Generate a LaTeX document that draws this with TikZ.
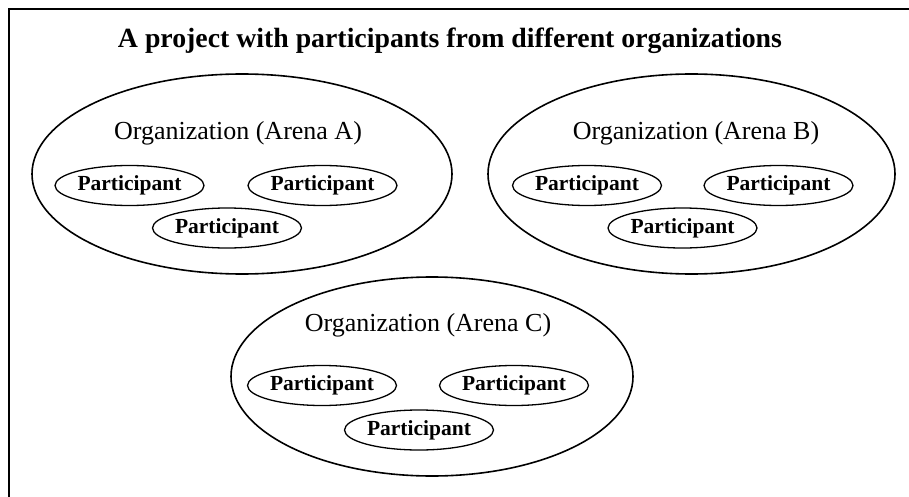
\documentclass[tikz,border=0pt]{standalone}
\usepackage{fontspec}
\setmainfont{Liberation Serif}
\usetikzlibrary{shapes.geometric}
\begin{document}
\begin{tikzpicture}[x=1pt,y=-1pt,
  org/.style={ellipse,draw,line width=1.6pt,inner sep=0pt},
  orgname/.style={font=\fontsize{26}{30}\selectfont,inner sep=0pt},
  member/.style={ellipse,draw,line width=1.3pt,inner sep=0pt,
    minimum width=149pt,minimum height=40pt,
    font=\bfseries\fontsize{21.5}{24}\selectfont},
  frameline/.style={line width=2pt}]
\useasboundingbox (0,0) rectangle (909,497);
% frame edges
\draw[frameline] (909,9) -- (9,9) -- (9,497);
% heading
\node[font=\bfseries\fontsize{27.8}{32}\selectfont,anchor=base] (title) at (450,48)
  {A project with participants from different organizations};
% organization A
\node[org,minimum width=420pt,minimum height=200pt] (orgA) at (242,174) {};
\node[orgname,anchor=base] (nameA) at (238,140) {Organization (Arena A)};
\node[member] (pa1) at (129.5,185.5) {Participant};
\node[member] (pa2) at (322.5,185.5) {Participant};
\node[member] (pa3) at (227,228) {Participant};
% organization B
\node[org,minimum width=407pt,minimum height=200pt] (orgB) at (691.5,174) {};
\node[orgname,anchor=base] (nameB) at (696,140) {Organization (Arena B)};
\node[member] (pb1) at (587,185.5) {Participant};
\node[member] (pb2) at (778.5,185.5) {Participant};
\node[member] (pb3) at (682.5,228) {Participant};
% organization C
\node[org,minimum width=402pt,minimum height=199pt] (orgC) at (432,376.5) {};
\node[orgname,anchor=base] (nameC) at (428,331) {Organization (Arena C)};
\node[member] (pc1) at (322,385.5) {Participant};
\node[member] (pc2) at (514,385.5) {Participant};
\node[member] (pc3) at (419,430) {Participant};
\end{tikzpicture}
\end{document}
